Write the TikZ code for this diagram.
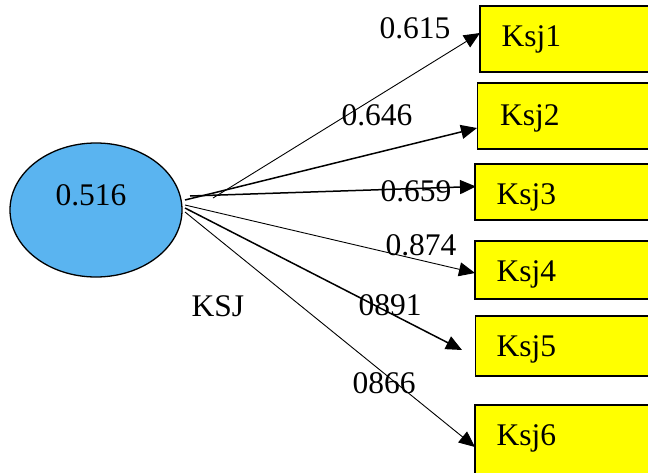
\documentclass[tikz,border=0pt]{standalone}
\usepackage{fontspec}
\setmainfont{Liberation Serif}
\usetikzlibrary{arrows.meta}
\definecolor{latblue}{RGB}{90,180,240}
\definecolor{boxyellow}{RGB}{255,255,0}
\begin{document}
\begin{tikzpicture}[x=1pt,y=-1pt,
  every node/.style={font=\fontsize{31.5}{36}\selectfont, inner sep=0pt},
  itembox/.style={draw=black, line width=1.6pt, fill=boxyellow},
  thinarrow/.style={line width=0.9pt, -{Triangle[length=16pt,width=14pt]}},
  thickarrow/.style={line width=1.5pt, -{Triangle[length=16pt,width=14pt]}},
  lbl/.style={anchor=base}
]
\useasboundingbox (0,0) rectangle (648,472);
\clip (0,0) rectangle (648,472);
% latent variable
\draw[fill=latblue, line width=1.3pt] (96,210) ellipse [x radius=86, y radius=67];
\node[lbl] (lat) at (91,205) {0.516};
\node[anchor=base west] (ksj) at (191.5,316.7) {KSJ};
% boxes
\draw[itembox] (480,6) rectangle (660,72);
\draw[itembox] (477.5,83) rectangle (660,149);
\draw[itembox] (475,164) rectangle (660,220);
\draw[itembox] (475,241) rectangle (660,299);
\draw[itembox] (475.5,316) rectangle (660,376);
\draw[itembox] (475,405) rectangle (660,480);
\node[anchor=base west] (k1) at (501.5,46.7) {Ksj1};
\node[anchor=base west] (k2) at (500,125) {Ksj2};
\node[anchor=base west] (k3) at (496.5,204) {Ksj3};
\node[anchor=base west] (k4) at (496.5,281.7) {Ksj4};
\node[anchor=base west] (k5) at (496.5,356.7) {Ksj5};
\node[anchor=base west] (k6) at (496.5,445) {Ksj6};
% connector ends
\coordinate (s1) at (213,198);
\coordinate (s2) at (185,200);
\coordinate (s3) at (190,196);
\coordinate (s4) at (185,205);
\coordinate (s5) at (185,208);
\coordinate (s6) at (185,212);
\coordinate (t1) at (480,33);
\coordinate (t2) at (477,128);
\coordinate (t3) at (476,186.5);
\coordinate (t4) at (475,273);
\coordinate (t5) at (462,350);
\coordinate (t6) at (475,447);
\draw[thinarrow] (s1) -- (t1);
\draw[thickarrow] (s2) -- (t2);
\draw[thickarrow] (s3) -- (t3);
\draw[thinarrow] (s4) -- (t4);
\draw[thickarrow] (s5) -- (t5);
\draw[thinarrow] (s6) -- (t6);
% loadings
\node[lbl] (l1) at (415,38) {0.615};
\node[lbl] (l2) at (377,125) {0.646};
\node[lbl] (l3) at (416,201.7) {0.659};
\node[lbl] (l4) at (421,255) {0.874};
\node[lbl] (l5) at (390,315) {0891};
\node[lbl] (l6) at (384,393) {0866};
\end{tikzpicture}
\end{document}
